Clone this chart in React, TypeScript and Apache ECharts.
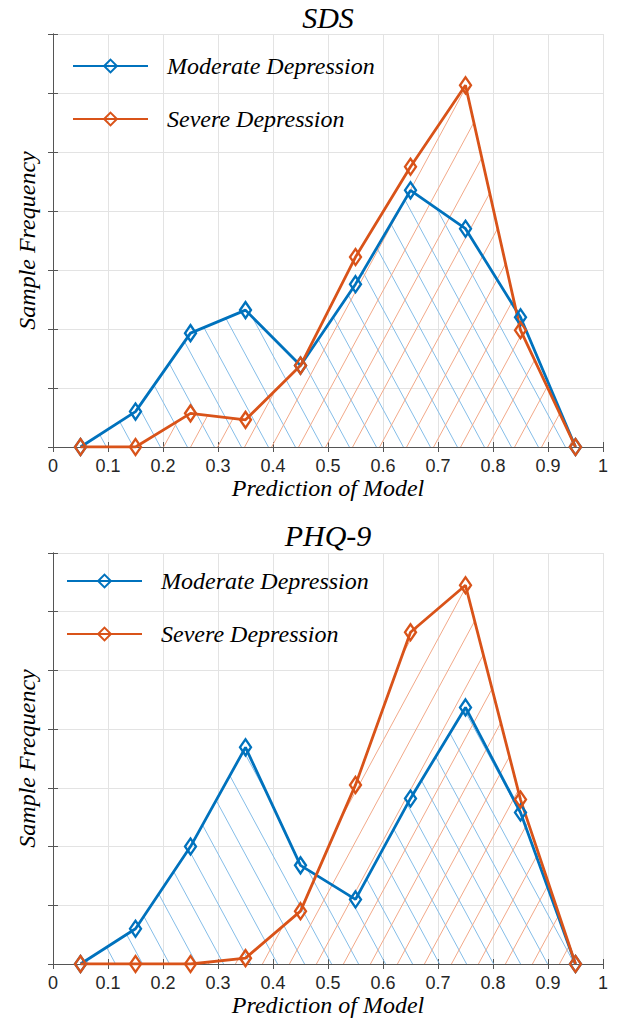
import React, { useEffect, useRef } from "react";
import * as echarts from "echarts";

// ---- data ----
const xPositions = [0.05, 0.15, 0.25, 0.35, 0.45, 0.55, 0.65, 0.75, 0.85, 0.95];

const sdsModerate = [0, 0.6, 1.93, 2.32, 1.38, 2.76, 4.35, 3.7, 2.2, 0];
const sdsSevere = [0, 0, 0.57, 0.46, 1.38, 3.22, 4.75, 6.13, 1.98, 0];

const phqModerate = [0, 0.6, 2.0, 3.69, 1.68, 1.1, 2.82, 4.37, 2.58, 0];
const phqSevere = [0, 0, 0, 0.1, 0.9, 3.05, 5.65, 6.45, 2.8, 0];

const titles = ["SDS", "PHQ-9"];
const seriesNames = ["Moderate Depression", "Severe Depression"];
const xAxisName = "Prediction of Model";
const yAxisName = "Sample Frequency";
const xTickLabels = ["0", "0.1", "0.2", "0.3", "0.4", "0.5", "0.6", "0.7", "0.8", "0.9", "1"];

const BLUE = "#0072BD";
const ORANGE = "#D95319";
const SERIF = "Liberation Serif";
const SANS = "Liberation Sans";

const css = `
#hatch-chart svg text, #hatch-chart svg tspan { font-family: "Liberation Serif", "Times New Roman", serif !important; }
#hatch-chart svg text[style*="18px"], #hatch-chart svg text[style*="18px"] tspan, #hatch-chart svg text[font-size="18"], #hatch-chart svg text[font-size="18px"] { font-family: "Liberation Sans", Arial, sans-serif !important; }
`;

function makeHatch(color: string, dir: "back" | "fwd") {
  const s = 27;
  const h = 50;
  const d =
    dir === "back"
      ? `M${-s} 0L0 ${h}M0 0L${s} ${h}M${s} 0L${2 * s} ${h}`
      : `M${-s} ${h}L0 0M0 ${h}L${s} 0M${s} ${h}L${2 * s} 0`;
  const svg = `<svg xmlns="http://www.w3.org/2000/svg" width="${s}" height="${h}"><path d="${d}" stroke="${color}" stroke-width="1" fill="none"/></svg>`;
  const url = "data:image/svg+xml;charset=utf-8," + encodeURIComponent(svg);
  return { image: url, repeat: "repeat", imageWidth: s, imageHeight: h } as any;
}

export default function App() {
  const ref = useRef<HTMLDivElement>(null);
  useEffect(() => {
    if (!ref.current) return;
    const chart = echarts.init(ref.current, null, { renderer: "svg" });
    const blueHatch = makeHatch("#84bde8", "back");
    const orangeHatch = makeHatch("#f2a888", "fwd");

    const grids = [
      { left: 53, top: 34, width: 550, height: 413 },
      { left: 53, top: 553, width: 550, height: 411 },
    ];
    const frameColor = "#555";
    const xAxes: any[] = [];
    const yAxes: any[] = [];
    grids.forEach((_, gi) => {
      xAxes.push({
        gridIndex: gi,
        type: "value",
        min: 0,
        max: 1,
        interval: 0.1,
        position: "bottom",
        name: xAxisName,
        nameLocation: "middle",
        nameGap: 29,
        nameTextStyle: { fontFamily: SERIF, fontStyle: "italic", fontSize: 24, color: "#000" },
        axisLine: { show: true, lineStyle: { color: frameColor, width: 1 } },
        axisTick: { show: true, inside: true, length: 5, lineStyle: { color: frameColor } },
        axisLabel: {
          show: true,
          margin: 10,
          fontFamily: SANS,
          fontSize: 18,
          color: "#262626",
          formatter: (v: number) => xTickLabels[Math.round(v * 10)],
        },
        splitLine: { show: true, lineStyle: { color: "#e3e3e3", width: 1 } },
      });
      xAxes.push({
        gridIndex: gi,
        type: "value",
        min: 0,
        max: 1,
        interval: 0.1,
        position: "top",
        axisLine: { show: true, lineStyle: { color: frameColor, width: 1 } },
        axisTick: { show: true, inside: true, length: 5, lineStyle: { color: frameColor } },
        axisLabel: { show: false },
        splitLine: { show: false },
      });
      yAxes.push({
        gridIndex: gi,
        type: "value",
        min: 0,
        max: 7,
        interval: 1,
        position: "left",
        name: yAxisName,
        nameLocation: "middle",
        nameGap: 14,
        nameTextStyle: { fontFamily: SERIF, fontStyle: "italic", fontSize: 24, color: "#000" },
        axisLine: { show: true, lineStyle: { color: frameColor, width: 1 } },
        axisTick: { show: true, inside: true, length: 5, lineStyle: { color: frameColor } },
        axisLabel: { show: false },
        splitLine: { show: true, lineStyle: { color: "#e3e3e3", width: 1 } },
      });
      yAxes.push({
        gridIndex: gi,
        type: "value",
        min: 0,
        max: 7,
        interval: 1,
        position: "right",
        axisLine: { show: true, lineStyle: { color: frameColor, width: 1 } },
        axisTick: { show: true, inside: true, length: 5, lineStyle: { color: frameColor } },
        axisLabel: { show: false },
        splitLine: { show: false },
      });
    });

    const mkSeries = (
      name: string,
      values: number[],
      gi: number,
      color: string,
      hatch: any
    ) => ({
      type: "line",
      name,
      xAxisIndex: gi * 2,
      yAxisIndex: gi * 2,
      data: xPositions.map((x, i) => [x, values[i]]),
      symbol: "diamond",
      symbolSize: [11, 16],
      showSymbol: true,
      lineStyle: { color, width: 2.8 },
      itemStyle: { color: "rgba(255,255,255,0)", borderColor: color, borderWidth: 2.4 },
      areaStyle: { color: hatch, opacity: 1 },
      emphasis: { disabled: true },
    });

    const series = [
      mkSeries(seriesNames[0], sdsModerate, 0, BLUE, blueHatch),
      mkSeries(seriesNames[1], sdsSevere, 0, ORANGE, orangeHatch),
      mkSeries(seriesNames[0], phqModerate, 1, BLUE, blueHatch),
      mkSeries(seriesNames[1], phqSevere, 1, ORANGE, orangeHatch),
    ];

    const legendBase = {
      orient: "vertical",
      padding: 0,
      itemWidth: 75,
      itemHeight: 16,
      itemGap: 29,
      selectedMode: false,
      data: seriesNames,
      textStyle: {
        fontFamily: SERIF,
        fontStyle: "italic",
        fontSize: 24,
        color: "#000",
        padding: [0, 0, 0, 14],
      },
    };

    chart.setOption({
      animation: false,
      backgroundColor: "#fff",
      title: [
        {
          text: titles[0],
          left: 328,
          top: 2,
          textAlign: "center",
          padding: 0,
          textStyle: { fontFamily: SERIF, fontStyle: "italic", fontWeight: "normal", fontSize: 30, color: "#000" },
        },
        {
          text: titles[1],
          left: 328,
          top: 520,
          textAlign: "center",
          padding: 0,
          textStyle: { fontFamily: SERIF, fontStyle: "italic", fontWeight: "normal", fontSize: 30, color: "#000" },
        },
      ],
      legend: [
        { ...legendBase, left: 72, top: 54 },
        { ...legendBase, left: 66, top: 569 },
      ],
      grid: grids.map((g) => ({ ...g, show: true, backgroundColor: "#fff", borderWidth: 0 })),
      xAxis: xAxes,
      yAxis: yAxes,
      series,
    });
    return () => chart.dispose();
  }, []);
  return (
    <>
      <style>{css}</style>
      <div
        id="hatch-chart"
        ref={ref}
        style={{ position: "absolute", left: 0, top: 0, width: 621, height: 1021 }}
      />
    </>
  );
}
